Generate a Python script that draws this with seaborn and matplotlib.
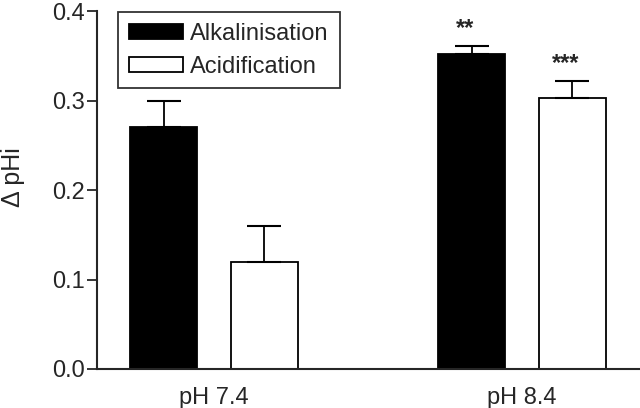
import pandas as pd
import seaborn as sns
import matplotlib.pyplot as plt

# values
groups = ['pH 7.4', 'pH 8.4']
series = ['Alkalinisation', 'Acidification']
alkalinisation = [0.271, 0.352]
acidification = [0.120, 0.303]
alk_err = [0.029, 0.009]
acid_err = [0.040, 0.019]
stars = ['', '**', '', '***']   # order: alk 7.4, alk 8.4, acid 7.4, acid 8.4

df = pd.DataFrame({
    'group': groups * 2,
    'series': [series[0]] * 2 + [series[1]] * 2,
    'value': alkalinisation + acidification,
    'err': alk_err + acid_err,
})

sns.set_style('ticks')
plt.rcParams['font.family'] = ['Liberation Sans', 'DejaVu Sans']

fig = plt.figure(figsize=(6.4, 4.08), dpi=100)
ax = fig.add_axes([0.152, 0.0956, 0.846, 0.877])

sns.barplot(data=df, x='group', y='value', hue='series', order=groups,
            hue_order=series, palette=['black', 'white'], width=0.654, gap=0.336,
            edgecolor='black', linewidth=1.3, errorbar=None, ax=ax)

# one-sided error bars + significance stars, positioned from the drawn bars
for bar, v, e, s in zip(ax.patches, df['value'], df['err'], stars):
    xc = bar.get_x() + bar.get_width() / 2
    ax.errorbar(xc, v, yerr=[[0], [e]], fmt='none', ecolor='black',
                elinewidth=1.3, capsize=12, capthick=1.5, zorder=1)
    if s:
        ax.text(xc - 0.02, v + e + 0.02, s, ha='center', va='center',
                fontsize=17, fontweight='bold')

ax.set_ylim(0, 0.4)
ax.set_xlim(-0.38, 1.38)
ax.set_yticks([0.0, 0.1, 0.2, 0.3, 0.4])
ax.set_yticklabels(['0.0', '0.1', '0.2', '0.3', '0.4'])
ax.set_xlabel('')
ax.set_ylabel('Δ pHi', fontsize=18)
ax.yaxis.set_label_coords(-0.134, 0.536)
ax.tick_params(axis='y', length=7, width=1.3, labelsize=17, pad=2)
ax.tick_params(axis='x', length=0, labelsize=17, pad=13)
sns.despine(ax=ax)
for sp in ['left', 'bottom']:
    ax.spines[sp].set_linewidth(1.5)

leg = ax.legend(loc='upper left', bbox_to_anchor=(0.039, 0.997), fontsize=17,
                frameon=True, fancybox=False, edgecolor='black',
                handlelength=2.3, handleheight=0.6, borderpad=0.45,
                labelspacing=0.45, handletextpad=0.3, borderaxespad=0)
leg.get_frame().set_linewidth(1.3)

fig.savefig('out.png', dpi=100)
